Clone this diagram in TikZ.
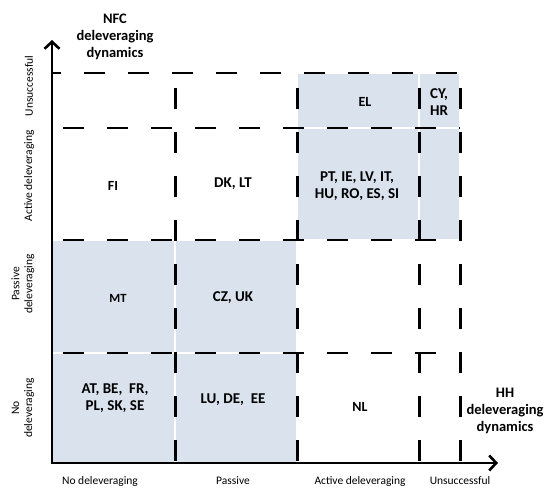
\documentclass[tikz,border=0pt]{standalone}
\usepackage{fontspec}
\setmainfont{Carlito}
\usetikzlibrary{arrows.meta}
\definecolor{cellblue}{RGB}{218,226,238}
\tikzset{
	cell/.style={fill=cellblue, draw=none},
	gridline/.style={line width=3pt, dash pattern=on 21pt off 23pt},
	flatline/.style={line width=2.5pt, dash pattern=on 21pt off 23pt},
	thinline/.style={line width=2pt, dash pattern=on 21pt off 23pt},
	axisline/.style={line width=2.6pt, -{Straight Barb[length=7pt,width=15pt]}},
	ctry/.style={font=\bfseries\fontsize{15}{17}\selectfont, align=center},
	ctrysmall/.style={font=\bfseries\fontsize{14}{16}\selectfont, align=center},
	axlabel/.style={font=\fontsize{11.5}{13}\selectfont, align=center},
	axtitle/.style={font=\bfseries\fontsize{14.5}{16.7}\selectfont, align=center}
}

\begin{document}
\begin{tikzpicture}[x=1pt,y=-1pt]
			%%%%% START %%%%%
			\useasboundingbox (0,0) rectangle (555,492);
			
			\coordinate (o) at (52,463);
			\coordinate (ytop) at (52,40);
			\coordinate (xend) at (498,463);
			
			% shaded cells
			\fill[cell] (53,241) rectangle (174,352);
			\fill[cell] (176,241) rectangle (296,352);
			\fill[cell] (53,354) rectangle (174,462);
			\fill[cell] (176,354) rectangle (296,462);
			\fill[cell] (298,74) rectangle (418,127);
			\fill[cell] (420,74) rectangle (459,127);
			\fill[cell] (298,129) rectangle (418,239);
			\fill[cell] (420,129) rectangle (459,239);
			
			% dashed grid
			\draw[flatline, dash phase=12] (52,73) -- (460,73);
			\draw[flatline, dash phase=33] (52,128) -- (460,128);
			\draw[flatline, dash phase=33] (52,240) -- (460,240);
			\draw[thinline, dash phase=33] (52,353) -- (460,353);
			
			\draw[gridline, dash phase=29] (175,73) -- (175,463);
			\draw[gridline, dash phase=29] (297,73) -- (297,463);
			\draw[gridline, dash phase=29] (419,73) -- (419,463);
			\draw[gridline, dash phase=29] (460,73) -- (460,463);
			
			% axes
			\draw[axisline] (o) -- (ytop);
			\draw[axisline] ([xshift=-1.3pt]o) -- (xend);
			
			\node[axtitle] (nfc) at (115,37) {NFC\\deleveraging\\dynamics};
			\node[axtitle] (hh) at (505,411) {HH\\deleveraging\\dynamics};
			
			% vertical axis labels
			\node[axlabel, rotate=90] (yunsucc) at (29,86) {Unsuccessful};
			\node[axlabel, rotate=90] (yactive) at (29,176) {Active deleveraging};
			\node[axlabel, rotate=90] (ypassive) at (23,284) {Passive\\deleveraging};
			\node[axlabel, rotate=90] (ynone) at (23,408) {No\\deleveraging};
			
			% horizontal axis labels
			\node[axlabel] (xnone) at (100,481) {No deleveraging};
			\node[axlabel] (xpassive) at (233,481) {Passive};
			\node[axlabel] (xactive) at (360,481) {Active deleveraging};
			\node[axlabel] (xunsucc) at (460,481) {Unsuccessful};
			
			% countries
			\node[ctrysmall] (fi) at (113,186) {FI};
			\node[ctry] (dklt) at (233,184) {DK, LT};
			\node[ctrysmall] (el) at (365,102) {EL};
			\node[ctry] (cyhr) at (439,102) {CY,\\HR};
			\node[ctry] (pt) at (357,186) {PT, IE, LV, IT,\\HU, RO, ES, SI};
			\node[ctry, font=\bfseries\fontsize{12.5}{14}\selectfont] (mt) at (118,298) {MT};
			\node[ctry] (czuk) at (233,298) {CZ, UK};
			\node[ctry] (at) at (115,398) {AT, BE, \ FR,\\PL, SK, SE};
			\node[ctry] (lu) at (233,400) {LU, DE, \ EE};
			\node[ctrysmall] (nl) at (360,407) {NL};
			
			%%%%% END %%%%%
\end{tikzpicture}
\end{document}
